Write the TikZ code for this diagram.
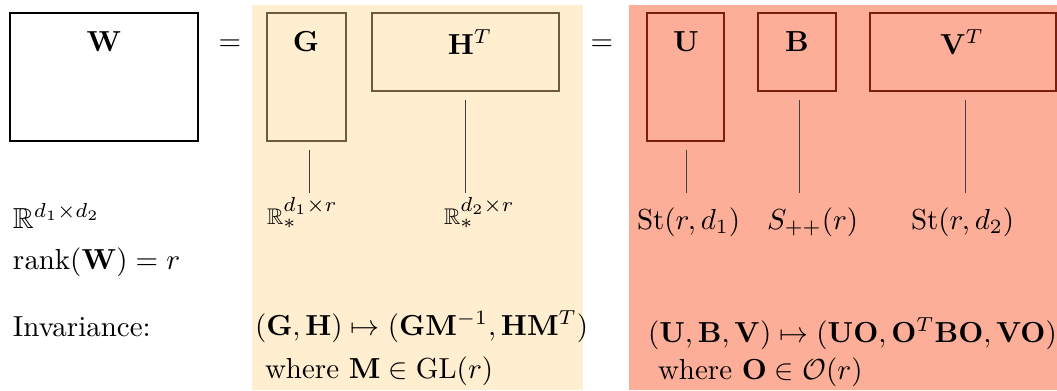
\documentclass[tikz,border=0pt]{standalone}
\usepackage{amsmath,amssymb,graphicx}
\begin{document}
\begin{tikzpicture}[x=0.345pt,y=-0.345pt,
  every node/.style={inner sep=0pt,outer sep=0pt},
  txt/.style={anchor=base west},
  lbl/.style={anchor=center},
  wbox/.style={draw=black,line width=0.75pt,fill=white},
  ybox/.style={draw=ybord,line width=0.75pt},
  rbox/.style={draw=rbord,line width=0.75pt},
  tick/.style={draw=black!75,line width=0.35pt}]
\definecolor{ybg}{RGB}{255,238,207}
\definecolor{rbg}{RGB}{253,174,152}
\definecolor{ybord}{RGB}{110,91,60}
\definecolor{rbord}{RGB}{123,30,14}
\newcommand{\smR}{\scalebox{0.78}{$\mathbb{R}$}}
\newcommand{\lowsup}[1]{\raisebox{-1.3pt}{$\scriptstyle #1$}}
\useasboundingbox (0,0) rectangle (1057,390);
% backgrounds
\fill[ybg] (252,5) rectangle (583,390);
\fill[rbg] (629,5) rectangle (1057,390);
% boxes
\node[wbox,minimum width=188*0.345pt,minimum height=128*0.345pt] (Wb) at (104,77) {};
\node[ybox,minimum width=79*0.345pt,minimum height=128*0.345pt] (Gb) at (306.5,77) {};
\node[ybox,minimum width=187*0.345pt,minimum height=78*0.345pt] (Hb) at (465.5,52) {};
\node[rbox,minimum width=77*0.345pt,minimum height=128*0.345pt] (Ub) at (685.5,77) {};
\node[rbox,minimum width=78*0.345pt,minimum height=78*0.345pt] (Bb) at (797,52) {};
\node[rbox,minimum width=186*0.345pt,minimum height=78*0.345pt] (Vb) at (963,52) {};
% box labels
\node[lbl] (Wl) at (104,42) {$\mathbf{W}$};
\node[lbl] (Gl) at (306,42) {$\mathbf{G}$};
\node[lbl] (Hl) at (470,42) {$\mathbf{H}^T$};
\node[lbl] (Ul) at (686,42) {$\mathbf{U}$};
\node[lbl] (Bl) at (797,42) {$\mathbf{B}$};
\node[lbl] (Vl) at (962,42) {$\mathbf{V}^T$};
\node[lbl] (eq1) at (230,45) {$=$};
\node[lbl] (eq2) at (602,45) {$=$};
% ticks
\coordinate (g1) at (309,150); \coordinate (g2) at (309,193);
\coordinate (h1) at (465,100); \coordinate (h2) at (465,193);
\coordinate (u1) at (686,150); \coordinate (u2) at (686,193);
\coordinate (b1) at (799,100); \coordinate (b2) at (799,193);
\coordinate (v1) at (965,100); \coordinate (v2) at (965,193);
\draw[tick] (g1) -- (g2);
\draw[tick] (h1) -- (h2);
\draw[tick] (u1) -- (u2);
\draw[tick] (b1) -- (b2);
\draw[tick] (v1) -- (v2);
% lower texts
\node[txt] (t1) at (13,228) {$\mathbb{R}^{d_1\times d_2}$};
\node[txt] (t2) at (13,269) {$\operatorname{rank}(\mathbf{W})=r$};
\node[txt] (t3) at (13,336) {Invariance:};
\node[txt] (t4) at (267,224) {$\smR_*^{\lowsup{d_1\times r}}$};
\node[txt] (t5) at (444,224) {$\smR_*^{\lowsup{d_2\times r}}$};
\node[txt] (t6) at (637,229) {$\mathrm{St}(r,d_1)$};
\node[txt] (t7) at (767,229) {$S_{++}(r)$};
\node[txt] (t8) at (911,229) {$\mathrm{St}(r,d_2)$};
\node[txt] (t9) at (255,335) {$(\mathbf{G},\mathbf{H})\mapsto(\mathbf{G}\mathbf{M}^{-1},\mathbf{H}\mathbf{M}^T)$};
\node[txt] (t10) at (265,378) {where $\mathbf{M}\in\mathrm{GL}(r)$};
\node[txt] (t11) at (648,342) {$(\mathbf{U},\mathbf{B},\mathbf{V})\mapsto(\mathbf{U}\mathbf{O},\mathbf{O}^T\mathbf{B}\mathbf{O},\mathbf{V}\mathbf{O})$};
\node[txt] (t12) at (658,379) {where $\mathbf{O}\in\mathcal{O}(r)$};
\end{tikzpicture}
\end{document}
